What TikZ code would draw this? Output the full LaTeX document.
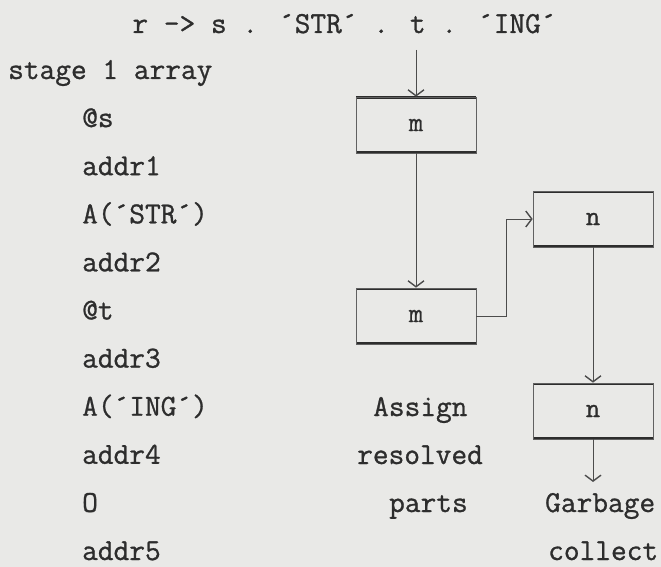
\documentclass[tikz,border=0pt]{standalone}
\usepackage{fontspec}
\newfontfamily\twfont{Latin Modern Mono}[FakeBold=0.9]
\usetikzlibrary{arrows.meta}
\definecolor{paper}{RGB}{233,233,231}
\definecolor{ink}{RGB}{45,45,45}
\begin{document}
\begin{tikzpicture}[x=1pt,y=-1pt,
  txt/.style={font=\twfont\fontsize{30.5}{30.5}\selectfont, text=ink, inner sep=0pt, anchor=base west},
  boxst/.style={font=\twfont\fontsize{28}{28}\selectfont, text=ink, draw=ink!75, line width=0.7pt,
    minimum width=120pt, minimum height=56pt, inner sep=0pt,
    path picture={\draw[line width=4.4pt,ink]
      (path picture bounding box.north west) -- (path picture bounding box.north east)
      (path picture bounding box.south west) -- (path picture bounding box.south east);}},
  conn/.style={draw=ink!85, line width=0.9pt,
    -{Straight Barb[length=6pt,width=16pt,line width=1.4pt]}}
]
\fill[paper] (0,0) rectangle (661,567);
\useasboundingbox (0,0) rectangle (661,567);

% title
\node[txt, anchor=base] (title) at (344.5,33) {r -> s . ´STR´ . t . ´ING´};

% left column
\node[txt] (l0) at (8,79) {stage 1 array};
\foreach \t [count=\i] in {@s,addr1,A(´STR´),addr2,@t,addr3,A(´ING´),addr4,O,addr5}{
  \node[txt] (l\i) at (82,{79+48.1*\i}) {\t};
}

% boxes
\node[boxst] (m1) at (416,125) {m};
\node[boxst] (m2) at (416,316) {m};
\node[boxst] (n1) at (593,219) {n};
\node[boxst] (n2) at (593,411) {n};

% right labels
\node[txt] (assign) at (373,416) {Assign};
\node[txt] (resolved) at (357,464) {resolved};
\node[txt] (parts) at (389,512) {parts};
\node[txt] (garbage) at (545,512) {Garbage};
\node[txt] (collect) at (548,560) {collect};

% connectors
\coordinate (start) at (416,50);
\coordinate (gc) at (593,482);
\draw[conn] (start) -- (m1.north);
\draw[conn] (m1.south) -- (m2.north);
\draw[conn] (m2.east) -- ++(30,0) |- (n1.west);
\draw[conn] (n1.south) -- (n2.north);
\draw[conn] (n2.south) -- (gc);
\end{tikzpicture}
\end{document}
